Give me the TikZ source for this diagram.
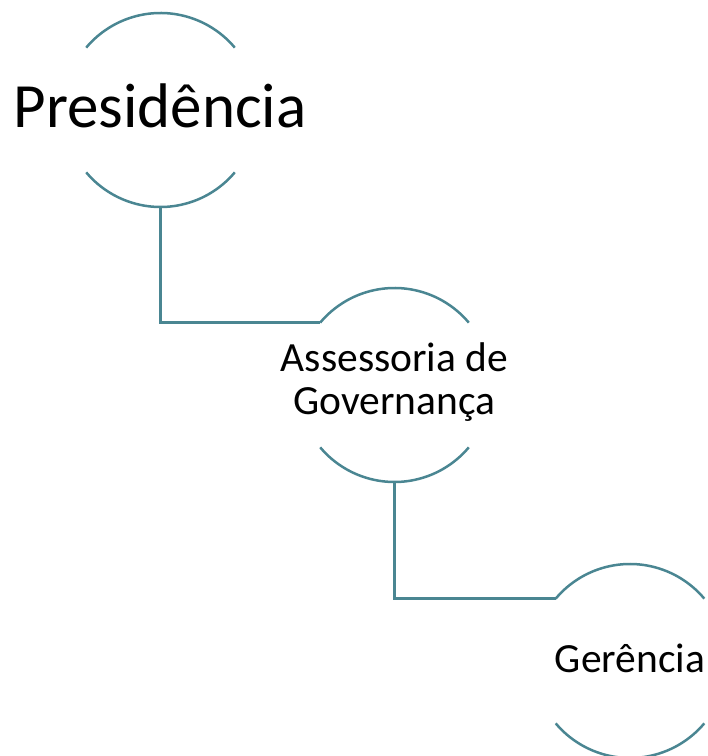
\documentclass[tikz,border=0pt]{standalone}
\usepackage{fontspec}
\setmainfont{Carlito}
\definecolor{ringteal}{RGB}{74,134,146}
\begin{document}
\begin{tikzpicture}
		[x=1pt,y=1pt,
		box/.style={circle,minimum size=194pt,inner sep=0pt,outer sep=0pt},
		txt/.style={anchor=base,align=center,inner sep=0pt,font=\fontsize{41.5}{43}\selectfont},
		ring/.style={draw=ringteal,line width=2.5pt},
		link/.style={draw=ringteal,line width=2.5pt}]
		\useasboundingbox (0,0) rectangle (708,756);
		\node[box,name=pres]at(160.5,646){};
		\node[box,name=gov]at(394.5,371){};
		\node[box,name=ger]at(630,95){};
		\node[txt,name=presT,font=\fontsize{63}{70}\selectfont]at(160,628){Presidência};
		\node[txt,name=govT]at(394.5,341){Assessoria de\\Governança};
		\node[txt,name=gerT]at(630,83.3){Gerência};
		\draw[ring] (pres.140) arc[start angle=140,end angle=40,radius=97];
		\draw[ring] (pres.220) arc[start angle=220,end angle=320,radius=97];
		\draw[ring] (gov.140) arc[start angle=140,end angle=40,radius=97];
		\draw[ring] (gov.220) arc[start angle=220,end angle=320,radius=97];
		\draw[ring] (ger.140) arc[start angle=140,end angle=40,radius=97];
		\draw[ring] (ger.220) arc[start angle=220,end angle=320,radius=97];
		\draw[link] (pres.south) |- (gov.140);
		\draw[link] (gov.south) |- (ger.140);
	\end{tikzpicture}
\end{document}
